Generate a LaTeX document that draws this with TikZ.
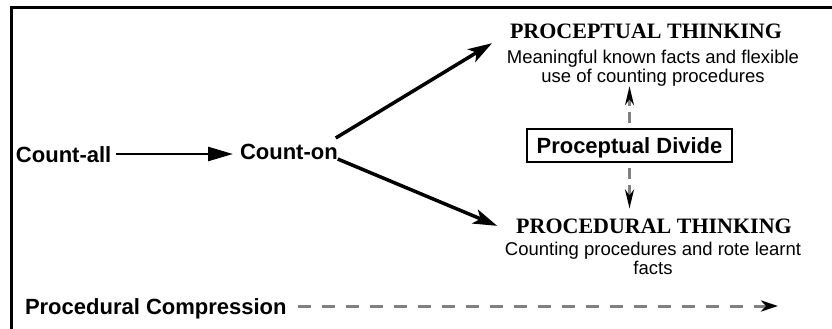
\documentclass[tikz,border=0pt]{standalone}
\usepackage{fontspec}
\setmainfont{Liberation Sans}
\newfontfamily\headserif{Liberation Serif}
\usetikzlibrary{arrows.meta,positioning}

\begin{document}
\begin{tikzpicture}[x=1pt,y=-1pt,
        base/.style={inner sep=0pt,outer sep=0pt},
        stage/.style={base,font=\bfseries\fontsize{22}{24}\selectfont,text height=16pt,text depth=0pt},
        thinking/.style={base,font=\headserif\bfseries\fontsize{22}{24}\selectfont},
        gloss/.style={base,align=center,font=\fontsize{18.5}{19}\selectfont},
        dividebox/.style={base,draw,line width=2.5pt,inner xsep=8pt,inner ysep=7pt,minimum width=205pt,
            text height=17pt,text depth=2pt,font=\bfseries\fontsize{22}{24}\selectfont},
        frameline/.style={line width=3pt},
        countarrow/.style={line width=2.5pt,-{Triangle[length=25pt,width=14pt]}},
        branch/.style={line width=3.5pt,-{Stealth[length=24pt,width=15pt,inset=6pt]}},
        divarrow/.style={black!50,line width=2.5pt,dash pattern=on 11pt off 6pt,dash phase=11pt,
            -{Stealth[length=19pt,width=9pt,inset=6pt,color=black]}},
        compress/.style={black!50,line width=3pt,dash pattern=on 13pt off 11pt,
            -{Stealth[length=17pt,width=11pt,inset=5pt,color=black]}}]
        \useasboundingbox (0,0) rectangle (832,329);
        % Frame
        \draw[frameline] (832,8) -- (11,8) -- (11,329);
        % Counting stages
        \node[stage,anchor=base west] (all) at (16,162) {Count-all};
        \node[stage,anchor=base west] (on) at (240,159) {Count-on};
        % Two kinds of thinking
        \node[thinking,anchor=base] (cept) at (646,39) {PROCEPTUAL THINKING};
        \node[gloss,anchor=north] (ceptd) at (653,50) {Meaningful known facts and flexible\\use of counting procedures};
        \node[thinking,anchor=base] (dural) at (654,233) {PROCEDURAL THINKING};
        \node[gloss,below=8.5pt of dural,xshift=-1pt] (durald) {Counting procedures and rote learnt\\facts};
        \node[dividebox] (divide) at (629.5,145.5) {Proceptual Divide};
        \node[stage,anchor=base west] (comp) at (25,314) {Procedural Compression};
        \coordinate (compend) at (778,306);
        % Arrows
        \draw[countarrow,shorten <=5pt,shorten >=7pt] (all.east) -- (on.west |- all.east);
        \draw[branch] ([shift={(-2pt,5pt)}]on.north east) -- ([shift={(-18pt,-4pt)}]cept.south west);
        \draw[branch] (on.base east) -- ([xshift=-19pt]dural.west);
        \draw[divarrow] (divide.north) -- (divide.north |- ceptd.south);
        \draw[divarrow] (divide.south) -- ([yshift=10pt]divide.south |- dural.north);
        \draw[compress] ([xshift=11pt]comp.east) -- (compend);
\end{tikzpicture}
\end{document}
